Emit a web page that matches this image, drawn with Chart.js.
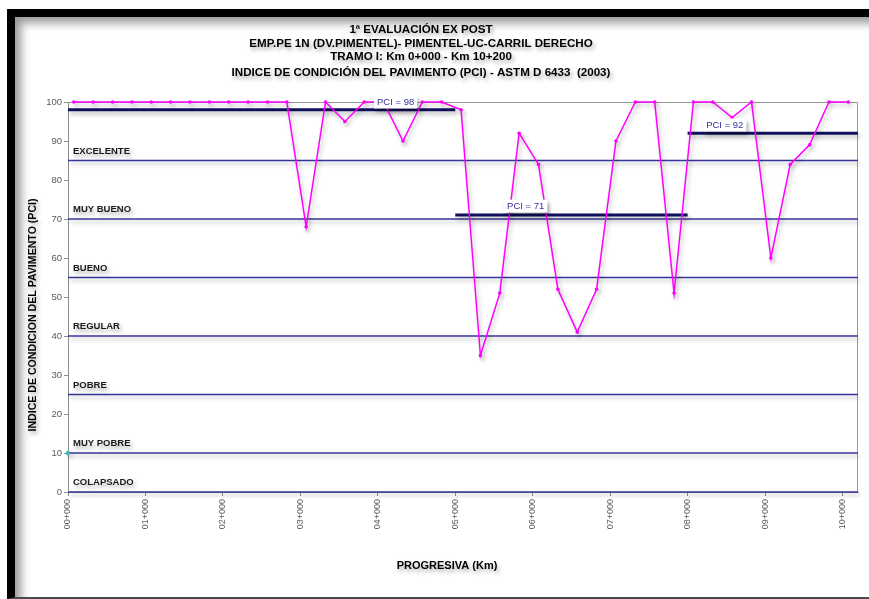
<!DOCTYPE html>
<html>
<head>
<meta charset="utf-8">
<script src="https://cdn.jsdelivr.net/npm/chart.js@4.4.1/dist/chart.umd.min.js"></script>
<style>
  html, body { margin: 0; padding: 0; background: #fff; width: 869px; height: 599px; overflow: hidden; }
  #marco {
    position: absolute; left: 7px; top: 9px; width: 862px; height: 590px; box-sizing: border-box;
    border-top: 8px solid #000; border-left: 8px solid #000; border-bottom: 2px solid #4a4a4a;
    box-shadow: inset 8px 8px 10px -2px rgba(0,0,0,0.40);
  }
  #grafico { position: absolute; left: 0; top: 0; }
</style>
</head>
<body>
<div id="marco"></div>
<canvas id="grafico" width="869" height="599"></canvas>
<script>
// Progresiva de cada unidad de muestra (km) y su PCI
const progresivaKm = [
  0.075, 0.325, 0.575, 0.825, 1.075, 1.325, 1.575, 1.825, 2.075, 2.325,
  2.575, 2.825, 3.075, 3.325, 3.575, 3.825, 4.075, 4.325, 4.575, 4.825,
  5.075, 5.325, 5.575, 5.825, 6.075, 6.325, 6.575, 6.825, 7.075, 7.325,
  7.575, 7.825, 8.075, 8.325, 8.575, 8.825, 9.075, 9.325, 9.575, 9.825,
  10.075
];
const pciMuestra = [
  100, 100, 100, 100, 100, 100, 100, 100, 100, 100,
  100, 100, 68, 100, 95, 100, 100, 90, 100, 100,
  98, 35, 51, 92, 84, 52, 41, 52, 90, 100,
  100, 51, 100, 100, 96, 100, 60, 84, 89, 100,
  100
];

// Tramos homogéneos con su PCI promedio
const tramoInicioKm = [0, 5, 8];
const tramoFinKm = [5, 8, 10.2];
const tramoPci = [98, 71, 92];

// Límites inferiores de cada clase de condición
const claseLimite = [85, 70, 55, 40, 25, 10, 0];
const claseNombre = ['EXCELENTE', 'MUY BUENO', 'BUENO', 'REGULAR', 'POBRE', 'MUY POBRE', 'COLAPSADO'];

// Marcas del eje de progresivas
const marcaKm = [0, 1, 2, 3, 4, 5, 6, 7, 8, 9, 10];
const marcaTexto = ['00+000', '01+000', '02+000', '03+000', '04+000', '05+000', '06+000', '07+000', '08+000', '09+000', '10+000'];

const tituloLineas = [
  '1ª EVALUACIÓN EX POST',
  'EMP.PE 1N (DV.PIMENTEL)- PIMENTEL-UC-CARRIL DERECHO',
  'TRAMO I: Km 0+000 - Km 10+200',
  'INDICE DE CONDICIÓN DEL PAVIMENTO (PCI) - ASTM D 6433  (2003)'
];
const tituloEjeY = 'INDICE DE CONDICION DEL PAVIMENTO (PCI)';
const tituloEjeX = 'PROGRESIVA (Km)';

const FUENTE = '"Liberation Sans", Arial, sans-serif';
const KM_MAX = 10.2;

const datasets = [];
datasets.push({
  label: 'PCI',
  data: progresivaKm.map((x, i) => ({ x, y: pciMuestra[i] })),
  borderColor: '#ff00ff',
  backgroundColor: '#ff00ff',
  borderWidth: 1.5,
  pointRadius: 1.8,
  pointBorderWidth: 0,
  pointBackgroundColor: '#ff00ff',
  tension: 0,
  clip: 6,
  sombra: true
});
tramoPci.forEach((v, i) => {
  datasets.push({
    label: 'PCI tramo ' + (i + 1),
    data: [{ x: tramoInicioKm[i], y: v }, { x: tramoFinKm[i], y: v }],
    borderColor: '#10105e',
    borderWidth: 3,
    pointRadius: 0,
    clip: 6,
    sombra: true
  });
});
claseLimite.forEach((v, i) => {
  datasets.push({
    label: claseNombre[i],
    data: [{ x: 0, y: v }, { x: KM_MAX, y: v }],
    borderColor: '#34349a',
    borderWidth: 1.4,
    pointRadius: v === 10 ? [2.2, 0] : 0,
    pointBackgroundColor: '#2fb8b8',
    pointBorderWidth: 0,
    clip: 6,
    sombra: true
  });
});

function conSombra(ctx, fn) {
  ctx.save();
  ctx.shadowColor = 'rgba(0,0,0,0.35)';
  ctx.shadowBlur = 4;
  ctx.shadowOffsetX = 2;
  ctx.shadowOffsetY = 3;
  fn();
  ctx.restore();
}

const decoracion = {
  id: 'decoracion',
  beforeDatasetsDraw(chart) {
    const { ctx, chartArea: a } = chart;
    ctx.save();
    ctx.strokeStyle = '#9a9a9a';
    ctx.lineWidth = 1;
    ctx.beginPath();
    ctx.moveTo(a.left, a.top + 0.5);
    ctx.lineTo(a.right - 0.5, a.top + 0.5);
    ctx.lineTo(a.right - 0.5, a.bottom);
    ctx.stroke();
    ctx.restore();
  },
  beforeDatasetDraw(chart, args) {
    if (!args.meta._dataset.sombra) return;
    const ctx = chart.ctx;
    ctx.save();
    ctx.shadowColor = 'rgba(0,0,0,0.28)';
    ctx.shadowBlur = 4;
    ctx.shadowOffsetX = 2;
    ctx.shadowOffsetY = 3;
  },
  afterDatasetDraw(chart, args) {
    if (!args.meta._dataset.sombra) return;
    chart.ctx.restore();
  },
  afterDatasetsDraw(chart, args, opts) {
    const { ctx, chartArea: a, scales: { x, y } } = chart;
    // nombres de las clases de condición
    conSombra(ctx, () => {
      ctx.fillStyle = '#1a1a1a';
      ctx.font = 'bold 9.5px ' + FUENTE;
      ctx.textAlign = 'left';
      ctx.textBaseline = 'middle';
      claseLimite.forEach((v, i) => {
        ctx.fillText(claseNombre[i], a.left + 5, y.getPixelForValue(v) - 9.5);
      });
    });
    // rótulos del PCI promedio de cada tramo
    ctx.font = '9.5px ' + FUENTE;
    opts.rotulos.forEach((r, i) => {
      const texto = 'PCI = ' + tramoPci[i];
      const w = ctx.measureText(texto).width + 6;
      const h = 13;
      const cx = x.getPixelForValue(r.km);
      const cy = y.getPixelForValue(r.pci);
      conSombra(ctx, () => {
        ctx.fillStyle = '#ffffff';
        ctx.fillRect(cx - w / 2, cy - h / 2, w, h);
      });
      ctx.save();
      ctx.fillStyle = '#33339a';
      ctx.textAlign = 'center';
      ctx.textBaseline = 'middle';
      ctx.fillText(texto, cx, cy + 0.5);
      ctx.restore();
    });
  },
  afterDraw(chart) {
    const ctx = chart.ctx;
    conSombra(ctx, () => {
      ctx.fillStyle = '#000';
      ctx.textAlign = 'center';
      ctx.textBaseline = 'middle';
      ctx.font = 'bold 11.6px ' + FUENTE;
      const ys = [30, 43.3, 56.7, 72.5];
      tituloLineas.forEach((t, i) => ctx.fillText(t, 421, ys[i]));
      ctx.font = 'bold 11px ' + FUENTE;
      ctx.fillText(tituloEjeX, 447, 566);
      ctx.save();
      ctx.translate(33, 315);
      ctx.rotate(-Math.PI / 2);
      ctx.font = 'bold 10.6px ' + FUENTE;
      ctx.fillText(tituloEjeY, 0, 0);
      ctx.restore();
    });
  }
};

new Chart(document.getElementById('grafico'), {
  type: 'line',
  data: { datasets },
  options: {
    responsive: false,
    animation: false,
    events: [],
    layout: { padding: { left: 0, right: 11, top: 102, bottom: 0 } },
    plugins: {
      legend: { display: false },
      title: { display: false },
      tooltip: { enabled: false },
      decoracion: {
        rotulos: [
          { km: 4.23, pci: 100 },
          { km: 5.91, pci: 73.3 },
          { km: 8.48, pci: 94.1 }
        ]
      }
    },
    scales: {
      x: {
        type: 'linear',
        min: 0,
        max: KM_MAX,
        afterBuildTicks(s) { s.ticks = marcaKm.map(v => ({ value: v })); },
        afterFit(s) { s.height = 107; },
        ticks: {
          autoSkip: false,
          maxRotation: 90,
          minRotation: 90,
          padding: 3,
          color: '#5a5a5a',
          font: { family: FUENTE, size: 9 },
          callback: (v) => marcaTexto[marcaKm.indexOf(v)]
        },
        grid: { drawOnChartArea: false, tickLength: 4, color: '#8c8c8c' },
        border: { color: '#8c8c8c' }
      },
      y: {
        min: 0,
        max: 100,
        afterFit(s) { s.width = 68; },
        ticks: {
          stepSize: 10,
          padding: 2,
          color: '#5a5a5a',
          font: { family: FUENTE, size: 9.5 }
        },
        grid: { drawOnChartArea: false, tickLength: 4, color: '#8c8c8c' },
        border: { color: '#8c8c8c' }
      }
    }
  },
  plugins: [decoracion]
});
</script>
</body>
</html>
